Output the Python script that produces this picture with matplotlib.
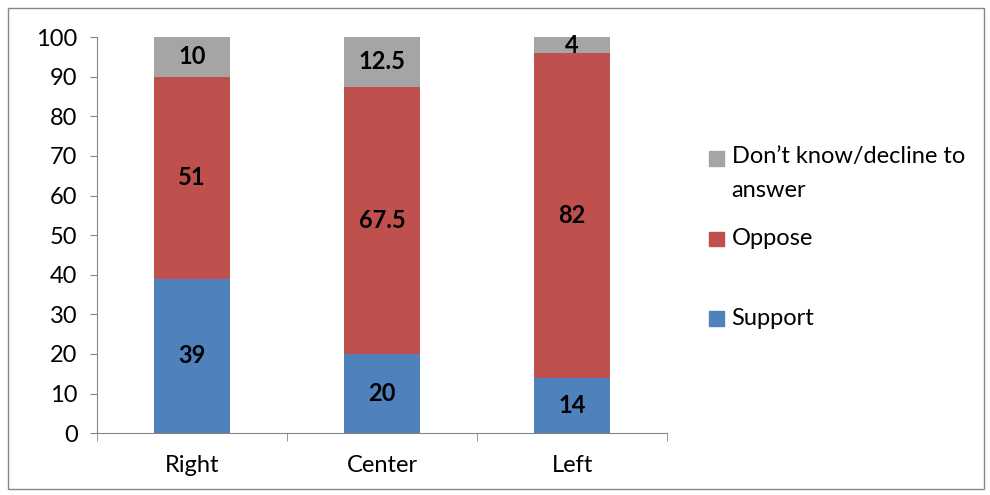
import numpy as np
import matplotlib.pyplot as plt
from matplotlib.patches import Rectangle

plt.rcParams['font.family'] = ['Lato', 'DejaVu Sans']

#chart data
categories = ['Right', 'Center', 'Left']
support = [39, 20, 14]
oppose = [51, 67.5, 82]
dontknow = [10, 12.5, 4]
series_names = ['Support', 'Oppose', 'Don\u2019t know/decline to\nanswer']
colors = ['#4f81bd', '#c0504d', '#a5a5a5']

fs = 17

fig = plt.figure(figsize=(9.9, 4.95), dpi=100)
ax = fig.add_axes([0.098, 0.125, 0.576, 0.80])

x = np.arange(len(categories))
bottom = np.zeros(len(categories))
for vals, col in zip([support, oppose, dontknow], colors):
    vals = np.array(vals, dtype=float)
    ax.bar(x, vals, 0.4, bottom=bottom, color=col)
    for xi, b, v in zip(x, bottom, vals):
        ax.text(xi, b + v / 2, '%g' % v, ha='center', va='center',
                fontsize=fs, fontweight='bold', color='black')
    bottom += vals

ax.set_xlim(-0.5, 2.5)
ax.set_ylim(0, 100)
ax.set_yticks(range(0, 101, 10))
ax.tick_params(axis='y', labelsize=fs, length=5, color='#868686', pad=9)
ax.set_xticks(x)
ax.set_xticklabels(categories, fontsize=fs)
ax.tick_params(axis='x', length=0, pad=16)
ax.set_xticks([-0.5, 0.5, 1.5, 2.5], minor=True)
ax.tick_params(axis='x', which='minor', length=6, color='#868686')
for s in ['top', 'right']:
    ax.spines[s].set_visible(False)
for s in ['left', 'bottom']:
    ax.spines[s].set_color('#868686')

#legend drawn by hand, reversed order like the original
legend_y = [0.357, 0.518, 0.680]
for name, col, ly in zip(series_names, colors, legend_y):
    fig.add_artist(Rectangle((0.7165, ly - 0.015), 0.0145, 0.029,
                             transform=fig.transFigure, color=col))
    if '\n' in name:
        fig.text(0.739, ly + 0.026, name, fontsize=fs, va='top', linespacing=1.8)
    else:
        fig.text(0.739, ly, name, fontsize=fs, va='center')

#outer border
fig.add_artist(Rectangle((0.008, 0.012), 0.986, 0.972, transform=fig.transFigure,
                         fill=False, edgecolor='#868686', linewidth=1))

plt.savefig('out.png', dpi=100)
